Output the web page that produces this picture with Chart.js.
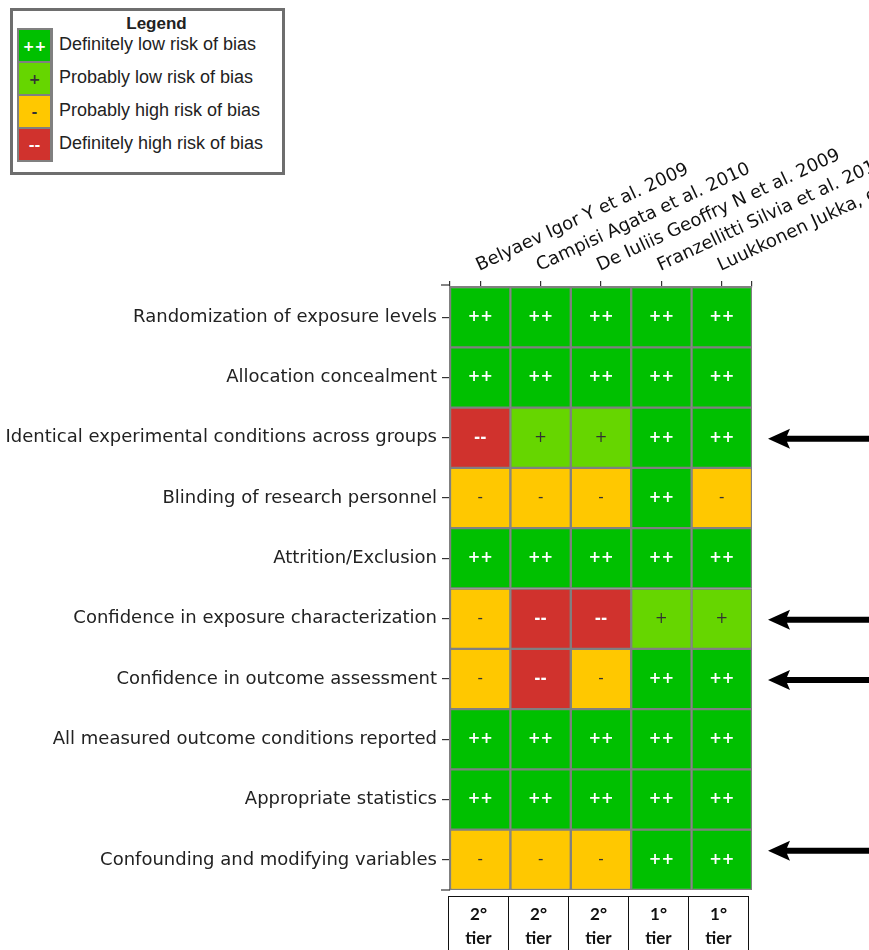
<!DOCTYPE html>
<html>
<head>
<meta charset="utf-8">
<script src="https://cdn.jsdelivr.net/npm/chart.js@4.4.1/dist/chart.umd.min.js"></script>
<style>
  html, body { margin: 0; padding: 0; background: #fff; }
  body { width: 869px; height: 950px; position: relative; overflow: hidden; }
  #chart { position: absolute; left: 0; top: 0; }
  #legend {
    position: absolute; left: 10px; top: 8px; width: 269px; height: 161px;
    border: 3px solid #6e6e6e; background: #fff;
    font-family: "Liberation Sans", Arial, sans-serif; color: #222;
  }
  #legend .title { position: absolute; left: 0; right: 0; top: 3px; text-align: center; font-weight: bold; font-size: 17px; padding-left: 18px; }
  #legend .swatches { position: absolute; left: 4px; top: 17px; width: 32px; border: 2px solid #808080; background: #808080; }
  #legend .sw { width: 31px; height: 31px; margin: 0 0 2px 0; display: flex; align-items: center; justify-content: center; font-family: "DejaVu Sans", sans-serif; font-weight: bold; font-size: 14px; }
  #legend .sw:last-child { margin-bottom: 0; }
  #legend .lab { position: absolute; left: 46px; font-size: 18px; white-space: nowrap; }
  #tiers { position: absolute; left: 448px; top: 896px; border-collapse: collapse; }
  #tiers td {
    border: 1.5px solid #111; width: 59px; height: 70px; padding: 0; vertical-align: top;
    text-align: center; font-family: Lato, "Liberation Sans", sans-serif; font-weight: bold; font-size: 17px; line-height: 24px; color: #111;
  }
  #tiers td div { padding-top: 5px; }
</style>
</head>
<body>
<canvas id="chart" width="869" height="950"></canvas>
<div id="legend"></div>
<table id="tiers"><tr id="tierRow"></tr></table>
<script>
// Studies (columns) and risk-of-bias domains (rows)
const studies = [
  "Belyaev Igor Y et al. 2009",
  "Campisi Agata et al. 2010",
  "De Iuliis Geoffry N et al. 2009",
  "Franzellitti Silvia et al. 2010",
  "Luukkonen Jukka, et al. 2009"
];
const domains = [
  "Randomization of exposure levels",
  "Allocation concealment",
  "Identical experimental conditions across groups",
  "Blinding of research personnel",
  "Attrition/Exclusion",
  "Confidence in exposure characterization",
  "Confidence in outcome assessment",
  "All measured outcome conditions reported",
  "Appropriate statistics",
  "Confounding and modifying variables"
];

// Ratings per study, one entry per domain
const belyaev      = ["++","++","--","-","++","-","-","++","++","-"];
const campisi      = ["++","++","+","-","++","--","--","++","++","-"];
const deIuliis     = ["++","++","+","-","++","--","-","++","++","-"];
const franzellitti = ["++","++","++","++","++","+","++","++","++","++"];
const luukkonen    = ["++","++","++","-","++","+","++","++","++","++"];
const ratings = [belyaev, campisi, deIuliis, franzellitti, luukkonen];

// Evidence tier of each study
const tiers = ["2°","2°","2°","1°","1°"];

// Domains marked with an arrow on the right
const flaggedRows = [2, 5, 6, 9];

// Rating scale
const ratingCodes  = ["++","+","-","--"];
const ratingNames  = ["Definitely low risk of bias","Probably low risk of bias","Probably high risk of bias","Definitely high risk of bias"];
const ratingColors = { "++": "#00c000", "+": "#66d600", "-": "#ffc800", "--": "#d0322d" };
const ratingText   = { "++": "#ffffff", "+": "#333333", "-": "#333333", "--": "#ffffff" };

// Legend
const legend = document.getElementById('legend');
let html = '<div class="title">Legend</div><div class="swatches">';
ratingCodes.forEach(c => {
  html += '<div class="sw" style="background:' + ratingColors[c] + ';color:' + ratingText[c] + '">' + c + '</div>';
});
html += '</div>';
ratingNames.forEach((n, i) => {
  html += '<div class="lab" style="top:' + (23 + i * 33) + 'px">' + n + '</div>';
});
legend.innerHTML = html;

// Tier boxes under the grid
const tierRow = document.getElementById('tierRow');
tiers.forEach(t => {
  const td = document.createElement('td');
  td.innerHTML = '<div>' + t + '<br>tier</div>';
  tierRow.appendChild(td);
});

// One stacked horizontal bar segment per study, coloured by rating
const datasets = studies.map((s, j) => ({
  label: s,
  data: domains.map(() => 1),
  backgroundColor: ratings[j].map(r => ratingColors[r]),
  borderColor: '#808080',
  borderWidth: 1.5,
  borderSkipped: false,
  categoryPercentage: 1,
  barPercentage: 1
}));

const cellText = {
  id: 'cellText',
  afterDatasetsDraw(chart) {
    const ctx = chart.ctx;
    ctx.save();
    ctx.textAlign = 'center';
    ctx.textBaseline = 'middle';
    chart.data.datasets.forEach((ds, j) => {
      const meta = chart.getDatasetMeta(j);
      meta.data.forEach((el, i) => {
        const r = ratings[j][i];
        ctx.fillStyle = ratingText[r];
        ctx.font = (r === '++' || r === '--' ? 'bold ' : '') + '15px "DejaVu Sans"';
        ctx.fillText(r, (el.x + el.base) / 2, el.y);
      });
    });
    ctx.restore();
  }
};

const decorations = {
  id: 'decorations',
  afterDraw(chart) {
    const ctx = chart.ctx;
    const area = chart.chartArea;
    const xs = chart.scales.xTop;
    const ys = chart.scales.y;
    ctx.save();

    // Study names, rotated above the columns
    ctx.fillStyle = '#111';
    ctx.font = '18px "DejaVu Sans"';
    ctx.textAlign = 'left';
    ctx.textBaseline = 'alphabetic';
    studies.forEach((s, j) => {
      const x = xs.getPixelForValue(j + 0.5) - 1;
      ctx.save();
      ctx.translate(x, area.top - 16);
      ctx.rotate(-25 * Math.PI / 180);
      ctx.fillText(s, 0, 0);
      ctx.restore();
    });

    // End ticks of the left axis
    ctx.strokeStyle = '#333';
    ctx.lineWidth = 1.2;
    [area.top - 2, area.bottom].forEach(y => {
      ctx.beginPath();
      ctx.moveTo(area.left - 9, y);
      ctx.lineTo(area.left, y);
      ctx.stroke();
    });

    // Arrows pointing at flagged domains
    ctx.fillStyle = '#000';
    flaggedRows.forEach((i, k) => {
      const y = ys.getPixelForValue(i) + (k === flaggedRows.length - 1 ? -9 : 1);
      const tip = area.right + 16;
      ctx.beginPath();
      ctx.moveTo(tip, y);
      ctx.lineTo(tip + 22, y - 10);
      ctx.lineTo(tip + 19, y - 3);
      ctx.lineTo(chart.width, y - 3);
      ctx.lineTo(chart.width, y + 3);
      ctx.lineTo(tip + 19, y + 3);
      ctx.lineTo(tip + 22, y + 10);
      ctx.closePath();
      ctx.fill();
    });
    ctx.restore();
  }
};

new Chart(document.getElementById('chart'), {
  type: 'bar',
  data: { labels: domains, datasets },
  options: {
    indexAxis: 'y',
    responsive: false,
    animation: false,
    devicePixelRatio: 1,
    layout: { padding: { left: 0, top: 0, right: 117, bottom: 60 } },
    plugins: { legend: { display: false }, tooltip: { enabled: false } },
    scales: {
      x: { type: 'linear', stacked: true, min: 0, max: studies.length, display: false },
      xTop: {
        type: 'linear', position: 'top', min: 0, max: studies.length,
        afterBuildTicks: s => {
          const vals = [0].concat(studies.map((_, j) => j + 0.5), [studies.length]);
          s.ticks = vals.map(v => ({ value: v }));
        },
        afterFit: s => { s.height = 287; },
        ticks: { display: false },
        grid: { drawOnChartArea: false, tickLength: 6, color: '#333', lineWidth: 1.2 },
        border: { display: true, color: '#808080', width: 1.5 }
      },
      y: {
        type: 'category', stacked: true, offset: true,
        afterFit: s => { s.width = 450; },
        ticks: { color: '#222', font: { family: 'DejaVu Sans', size: 18 }, padding: 5 },
        grid: { offset: false, drawOnChartArea: false, tickLength: 8, color: '#333', lineWidth: 1.2 },
        border: { display: true, color: '#808080', width: 1.5 }
      }
    }
  },
  plugins: [cellText, decorations]
});
</script>
</body>
</html>
